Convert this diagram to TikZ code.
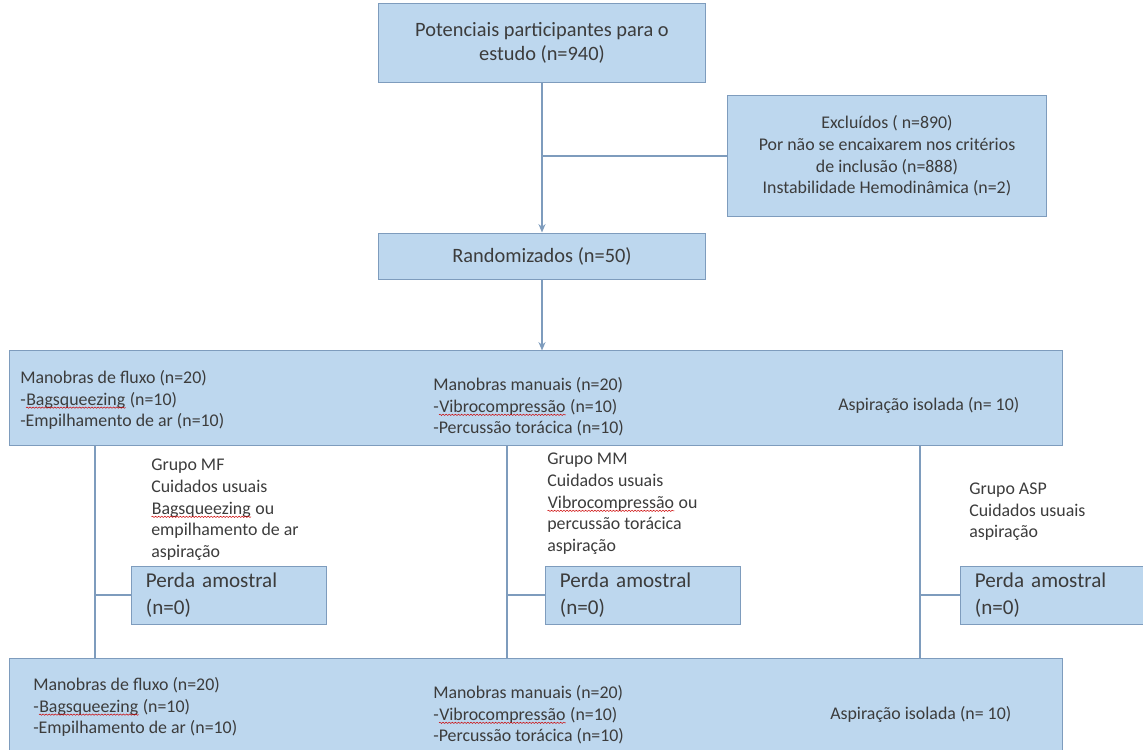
\documentclass[tikz,border=0pt]{standalone}
\usepackage{fontspec}
\setmainfont{Carlito}
\usetikzlibrary{arrows.meta, positioning, decorations.pathmorphing}

\definecolor{azulcaixa}{HTML}{BDD7EE}
\definecolor{azulborda}{HTML}{7E9CBD}
\definecolor{cinzatexto}{HTML}{3C3C3C}

% sublinhado ondulado do corretor
\newcommand{\ondulado}[1]{\tikz[baseline=(w.base)]{\node[inner sep=0pt] (w) {#1};
    \draw[red!80!black, line width=0.35pt, decorate, decoration={snake, amplitude=0.45pt, segment length=2.2pt}]
    ([yshift=-1.8pt]w.base west) -- ([yshift=-1.8pt]w.base east);}}

\begin{document}
\begin{tikzpicture}[
        x=0.025cm, y=-0.025cm,
        >={Stealth[length=6pt, width=5pt]},
        caixa/.style={draw=azulborda, fill=azulcaixa, line width=0.7pt, text=cinzatexto, inner sep=0pt, align=center},
        fontegrande/.style={font=\fontsize{14.5}{17.5}\selectfont},
        fontenormal/.style={font=\fontsize{12.7}{15.4}\selectfont},
        faixa/.style={caixa, minimum width=26.3cm, minimum height=2.35cm},
        perda/.style={caixa, anchor=west, align=left, text width=4.15cm, inner xsep=0.36cm, minimum height=1.45cm, font=\fontsize{15}{19}\selectfont},
        texto/.style={fontenormal, text=cinzatexto, inner sep=0pt, align=left, anchor=west},
        liga/.style={draw=azulborda, line width=1.3pt}
    ]
\useasboundingbox (0,0) rectangle (1143,749);

% Caixas do topo
\node[caixa, fontegrande, minimum width=8.15cm, minimum height=1.95cm] (topo) at (542,43)
    {Potenciais participantes para o\\estudo (n=940)};
\node[caixa, fontenormal, minimum width=7.95cm, minimum height=3cm] (excl) at (887,156)
    {Excluídos ( n=890)\\Por não se encaixarem nos critérios\\de inclusão (n=888)\\Instabilidade Hemodinâmica (n=2)};
\node[caixa, fontegrande, minimum width=8.15cm, minimum height=1.15cm] (rand) at (542,256)
    {Randomizados (n=50)};

% Faixas dos grupos
\node[faixa] (faixa1) at (536,398) {};
\node[faixa] (faixa2) at (536,705) {};

\node[texto] (f1a) at (20,400) {Manobras de fluxo (n=20)\\-\ondulado{Bagsqueezing} (n=10)\\-Empilhamento de ar (n=10)};
\node[texto] (f1b) at (433,407) {Manobras manuais (n=20)\\-\ondulado{Vibrocompressão} (n=10)\\-Percussão torácica (n=10)};
\node[texto] (f1c) at (838,405) {Aspiração isolada (n= 10)};

\node[texto] (f2a) at (33,707) {Manobras de fluxo (n=20)\\-\ondulado{Bagsqueezing} (n=10)\\-Empilhamento de ar (n=10)};
\node[texto] (f2b) at (433,715) {Manobras manuais (n=20)\\-\ondulado{Vibrocompressão} (n=10)\\-Percussão torácica (n=10)};
\node[texto] (f2c) at (830,714) {Aspiração isolada (n= 10)};

% Descricao dos grupos
\node[texto] (gmf) at (151,510) {Grupo MF\\Cuidados usuais\\\ondulado{Bagsqueezing} ou\\empilhamento de ar\\aspiração};
\node[texto] (gmm) at (547,504) {Grupo MM\\Cuidados usuais\\\ondulado{Vibrocompressão} ou\\percussão torácica\\aspiração};
\node[texto] (gasp) at (969,512) {Grupo ASP\\Cuidados usuais\\aspiração};

% Perdas
\node[perda] (perda1) at (131,595) {Perda amostral\\(n=0)};
\node[perda] (perda2) at (545,595) {Perda amostral\\(n=0)};
\node[perda] (perda3) at (960,595) {Perda amostral\\(n=0)};

% Ramos verticais
\coordinate (ramoA) at (95,0);
\coordinate (ramoB) at (507,0);
\coordinate (ramoC) at (920,0);

% Ligacoes
\draw[liga, ->] (topo) -- (rand);
\draw[liga] (excl.west) -- (excl.west -| topo.south);
\draw[liga, ->] (rand) -- (rand |- faixa1.north);
\foreach \r/\p in {ramoA/perda1, ramoB/perda2, ramoC/perda3} {
    \draw[liga] (faixa1.south -| \r) -- (faixa2.north -| \r);
    \draw[liga] (\p.west) -- (\p.west -| \r);
}
\end{tikzpicture}
\end{document}
